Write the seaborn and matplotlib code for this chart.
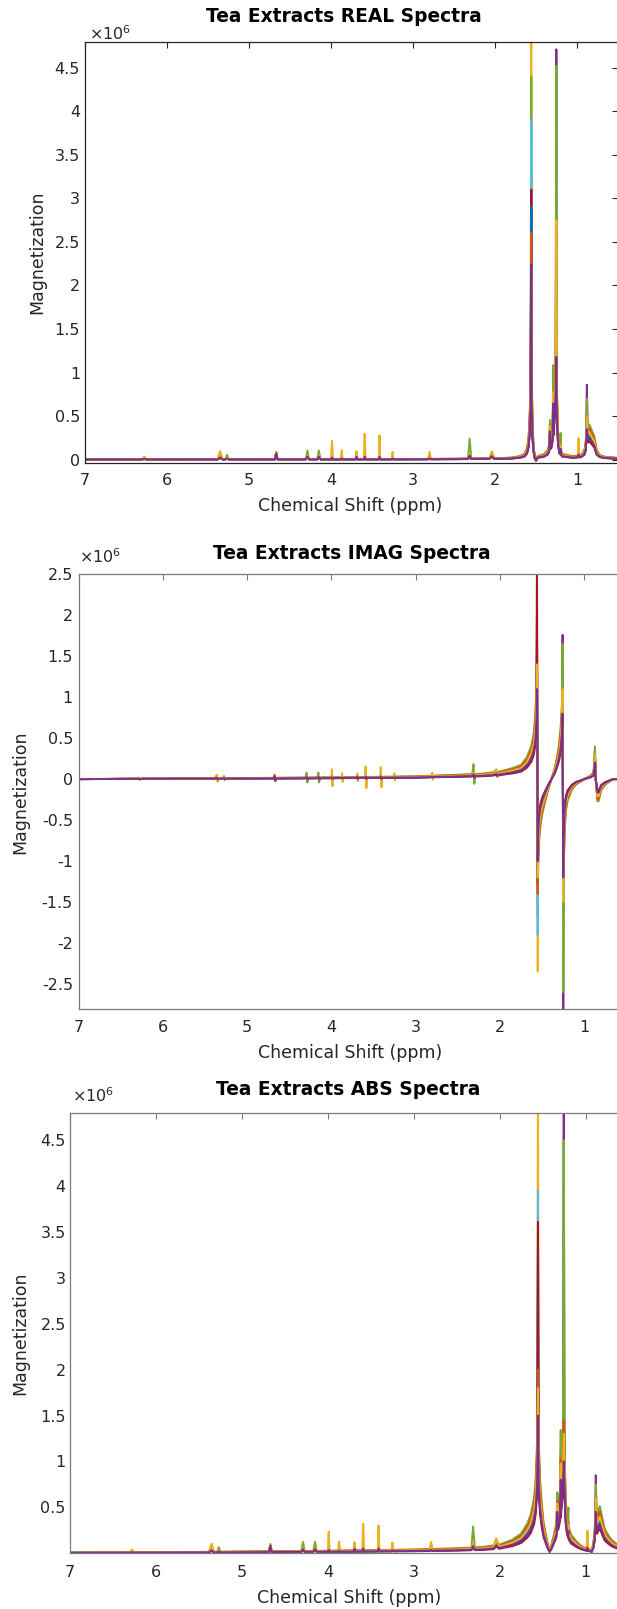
import numpy as np
import pandas as pd
import matplotlib
matplotlib.use("Agg")
import matplotlib.pyplot as plt
import seaborn as sns
from matplotlib.ticker import FuncFormatter

# ---------------------------------------------------------------- data
sample_names = [f"S{i + 1:02d}" for i in range(11)]
sample_colors = ["#0072BD", "#D95319", "#EDB120", "#7E2F8E", "#77AC30", "#4DBEEE",
                 "#A2142F", "#0072BD", "#D95319", "#EDB120", "#7E2F8E"]
sample_group = ["base", "base", "yellow", "base", "green", "base",
                "base", "base", "base", "yellow", "base"]
sample_gain = [0.8, 1.15, 1.25, 0.95, 1.35, 1.0, 0.7, 0.88, 1.2, 1.05, 0.82]

ppm_ticks = [7, 6, 5, 4, 3, 2, 1]
titles = ["Tea Extracts REAL Spectra", "Tea Extracts IMAG Spectra", "Tea Extracts ABS Spectra"]

# small (minor) resonances, heights in units of 1e6
minor_ppm = [6.28, 5.355, 5.27, 4.67, 4.29, 4.15, 3.99, 3.87, 3.69, 3.59, 3.41, 3.25,
             2.80, 2.31, 2.04, 1.33, 1.29, 1.20, 0.98]
minor_halfwidth = [0.03, 0.03, 0.02, 0.015, 0.02, 0.02, 0.008, 0.008, 0.01, 0.008, 0.008,
                   0.008, 0.015, 0.02, 0.03, 0.01, 0.008, 0.008, 0.008]
minor_base = [0.005, 0.02, 0.01, 0.07, 0.03, 0.03, 0.02, 0.01, 0.03, 0.03, 0.03, 0.01,
              0.01, 0.04, 0.03, 0.2, 0.35, 0.06, 0.03]
minor_yellow = [0.03, 0.09, 0.02, 0.08, 0.04, 0.04, 0.21, 0.1, 0.09, 0.29, 0.27, 0.08,
                0.08, 0.06, 0.08, 0.22, 0.4, 0.08, 0.2]
minor_green = [0.01, 0.03, 0.05, 0.08, 0.1, 0.1, 0.03, 0.03, 0.04, 0.05, 0.05, 0.02,
               0.02, 0.23, 0.05, 0.25, 0.6, 0.2, 0.05]

imag_minor_base = [0.003, 0.01, 0.005, 0.03, 0.015, 0.015, 0.01, 0.005, 0.015, 0.015,
                   0.015, 0.005, 0.005, 0.02, 0.015]
imag_minor_yellow = [0.015, 0.04, 0.01, 0.04, 0.02, 0.02, 0.1, 0.05, 0.045, 0.13, 0.12,
                     0.04, 0.04, 0.03, 0.04]
imag_minor_green = [0.005, 0.015, 0.025, 0.04, 0.06, 0.06, 0.015, 0.015, 0.02, 0.025,
                    0.025, 0.01, 0.01, 0.12, 0.025]

# REAL spectrum: background / skirts, then the big resonances per sample
real_bg_ppm = [7.0, 6.0, 5.0, 4.0, 3.0, 2.5, 2.0, 1.8, 1.7, 1.64, 1.61, 1.59, 1.575, 1.566,
               1.552, 1.542, 1.53, 1.515, 1.5, 1.48, 1.44, 1.4, 1.36, 1.31, 1.285, 1.262,
               1.245, 1.232, 1.215, 1.18, 1.12, 1.05, 0.95, 0.91, 0.893, 0.868, 0.85, 0.82,
               0.79, 0.76, 0.72, 0.66, 0.58, 0.5]
real_bg_val = [0.004, 0.004, 0.005, 0.005, 0.006, 0.008, 0.012, 0.018, 0.03, 0.05, 0.1, 0.2,
               0.45, 0.8, 0.7, 0.3, 0.12, 0.02, -0.01, 0.03, 0.04, 0.05, 0.08, 0.2, 0.4, 0.9,
               0.6, 0.25, 0.1, 0.05, 0.04, 0.03, 0.04, 0.08, 0.15, 0.28, 0.3, 0.25, 0.2, 0.08,
               0.04, 0.025, 0.02, 0.015]
real_big_ppm = [1.558, 1.252, 0.88]
real_peak_1p56 = [2.9, 3.3, 5.3, 3.0, 4.4, 3.9, 3.1, 2.9, 2.6, 2.2, 2.24]
real_peak_1p25 = [1.0, 1.2, 2.3, 4.71, 4.52, 1.3, 1.1, 1.3, 1.0, 2.75, 1.18]
real_peak_0p88 = [0.4, 0.45, 0.5, 0.86, 0.7, 0.4, 0.42, 0.45, 0.4, 0.5, 0.35]

# IMAG spectrum (dispersive)
imag_bg_ppm = [7.0, 6.0, 5.0, 4.0, 3.0, 2.5, 2.2, 2.0, 1.85, 1.75, 1.68, 1.63, 1.6, 1.58,
               1.567, 1.548, 1.535, 1.52, 1.5, 1.47, 1.43, 1.39, 1.35, 1.32, 1.3, 1.28,
               1.265, 1.245, 1.235, 1.22, 1.2, 1.15, 1.1, 1.0, 0.93, 0.89, 0.865, 0.845,
               0.83, 0.8, 0.75, 0.66, 0.5]
imag_bg_val = [0.0, 0.005, 0.01, 0.015, 0.025, 0.04, 0.05, 0.07, 0.1, 0.13, 0.2, 0.3, 0.42,
               0.6, 0.9, -0.8, -0.55, -0.42, -0.32, -0.22, -0.1, 0.0, 0.1, 0.22, 0.32, 0.48,
               0.7, -0.9, -0.5, -0.3, -0.2, -0.1, -0.05, 0.0, 0.03, 0.06, 0.0, -0.2, -0.2,
               -0.1, -0.05, 0.0, 0.0]
imag_big_ppm = [1.562, 1.553, 1.258, 1.25, 0.874]
imag_up_1p56 = [1.5, 2.0, 2.8, 1.97, 1.6, 1.54, 2.8, 1.3, 1.2, 1.4, 1.1]
imag_down_1p56 = [-1.2, -1.5, -2.35, -1.0, -1.68, -1.9, -1.3, -1.1, -1.4, -1.2, -1.0]
imag_up_1p25 = [0.7, 0.8, 1.0, 1.76, 1.65, 0.75, 0.7, 0.8, 0.7, 1.1, 0.8]
imag_down_1p25 = [-1.0, -1.2, -1.6, -3.0, -2.6, -1.1, -1.0, -1.2, -1.0, -1.5, -1.2]
imag_up_0p87 = [0.25, 0.28, 0.3, 0.38, 0.4, 0.22, 0.25, 0.28, 0.25, 0.3, 0.2]

# ABS spectrum
abs_bg_ppm = [7.0, 6.5, 6.0, 5.0, 4.0, 3.0, 2.5, 2.2, 2.0, 1.85, 1.75, 1.68, 1.64, 1.6, 1.58,
              1.566, 1.545, 1.53, 1.51, 1.49, 1.46, 1.44, 1.42, 1.4, 1.37, 1.34, 1.31, 1.29,
              1.265, 1.245, 1.235, 1.22, 1.2, 1.17, 1.1, 1.05, 1.0, 0.95, 0.93, 0.91, 0.893,
              0.87, 0.85, 0.835, 0.81, 0.78, 0.74, 0.7, 0.65, 0.5]
abs_bg_val = [0.004, 0.006, 0.008, 0.013, 0.02, 0.03, 0.04, 0.05, 0.07, 0.11, 0.16, 0.24,
              0.31, 0.45, 0.62, 0.9, 0.9, 0.6, 0.4, 0.25, 0.14, 0.07, 0.02, 0.06, 0.15, 0.25,
              0.42, 0.55, 0.9, 0.9, 0.5, 0.32, 0.22, 0.15, 0.09, 0.06, 0.04, 0.03, 0.02, 0.08,
              0.2, 0.3, 0.35, 0.38, 0.3, 0.2, 0.15, 0.11, 0.08, 0.05]
abs_big_ppm = [1.555, 1.255, 0.882]
abs_peak_1p56 = [2.2, 2.95, 5.3, 2.5, 3.3, 3.95, 3.61, 1.48, 2.0, 1.8, 1.5]
abs_peak_1p25 = [1.1, 1.2, 1.4, 5.3, 4.5, 1.2, 1.1, 1.3, 1.45, 1.3, 1.0]
abs_peak_0p88 = [0.5, 0.55, 0.6, 0.85, 0.75, 0.5, 0.5, 0.55, 0.5, 0.6, 0.45]


# ---------------------------------------------------------------- assembly
def build_curve(bg_ppm, bg_val, gain, big_ppm, big_h, mppm, mw, mh, dispersive=False):
    bp = np.asarray(bg_ppm, float)[::-1]
    bv = np.asarray(bg_val, float)[::-1] * gain
    xs, ys = list(bp), list(bv)
    xs += list(big_ppm)
    ys += list(big_h)
    for p, w, h in zip(mppm, mw, mh):
        b0 = float(np.interp(p, bp, bv))
        if dispersive:
            xs += [p - w, p - 0.004, p + 0.004, p + w]
            ys += [float(np.interp(p - w, bp, bv)), b0 - h, b0 + h,
                   float(np.interp(p + w, bp, bv))]
        else:
            xs += [p - w, p, p + w]
            ys += [float(np.interp(p - w, bp, bv)), b0 + h, float(np.interp(p + w, bp, bv))]
    order = np.argsort(xs, kind="stable")
    return np.asarray(xs)[order], np.asarray(ys)[order]


groups = {"base": minor_base, "yellow": minor_yellow, "green": minor_green}
igroups = {"base": imag_minor_base, "yellow": imag_minor_yellow, "green": imag_minor_green}


def frame(curves):
    parts = [pd.DataFrame({"ppm": x, "mag": y, "sample": n})
             for n, (x, y) in zip(sample_names, curves)]
    return pd.concat(parts, ignore_index=True)


real_curves, imag_curves, abs_curves = [], [], []
for i in range(len(sample_names)):
    g = sample_group[i]
    real_curves.append(build_curve(real_bg_ppm, real_bg_val, sample_gain[i], real_big_ppm,
                                   [real_peak_1p56[i], real_peak_1p25[i], real_peak_0p88[i]],
                                   minor_ppm, minor_halfwidth, groups[g]))
    imag_curves.append(build_curve(imag_bg_ppm, imag_bg_val, sample_gain[i], imag_big_ppm,
                                   [imag_up_1p56[i], imag_down_1p56[i], imag_up_1p25[i],
                                    imag_down_1p25[i], imag_up_0p87[i]],
                                   minor_ppm[:15], minor_halfwidth[:15], igroups[g],
                                   dispersive=True))
    abs_curves.append(build_curve(abs_bg_ppm, abs_bg_val, sample_gain[i], abs_big_ppm,
                                  [abs_peak_1p56[i], abs_peak_1p25[i], abs_peak_0p88[i]],
                                  minor_ppm, minor_halfwidth, groups[g]))

frames = [frame(real_curves), frame(imag_curves), frame(abs_curves)]

# ---------------------------------------------------------------- figure
sns.set_theme(style="white")
plt.rcParams["font.family"] = ["DejaVu Sans"]
plt.rcParams["mathtext.fontset"] = "dejavusans"
plt.rcParams["axes.unicode_minus"] = False

W, H = 617, 1609
fig = plt.figure(figsize=(W / 100, H / 100), dpi=100)
fig.patch.set_facecolor("white")

TXT = "#262626"
panels = [
    dict(L=85.3, R=618.0, T=42.3, B=462.9, ylim=(-0.037, 4.79),
         yticks=[0, 0.5, 1, 1.5, 2, 2.5, 3, 3.5, 4, 4.5], spine="#262626",
         title=(344, 25), x10=(89, 34), ylab=(37, 252.6), xlab=(350, 505.7),
         xpad=7.3, ypad=3.8),
    dict(L=78.5, R=626.5, T=574.3, B=1009.3, ylim=(-2.81, 2.5),
         yticks=[-2.5, -2, -1.5, -1, -0.5, 0, 0.5, 1, 1.5, 2, 2.5], spine="#7a7a7a",
         title=(352, 561.7), x10=(79, 557), ylab=(20.5, 792), xlab=(350, 1053),
         xpad=7.7, ypad=4.0),
    dict(L=70.2, R=628.6, T=1112.7, B=1553.0, ylim=(0.002, 4.80),
         yticks=[0.5, 1, 1.5, 2, 2.5, 3, 3.5, 4, 4.5], spine="#7a7a7a",
         title=(348, 1098), x10=(72, 1096), ylab=(20.5, 1333), xlab=(349, 1598),
         xpad=8.6, ypad=3.2),
]

palette = dict(zip(sample_names, sample_colors))
fmt = FuncFormatter(lambda v, p: f"{v:g}")

for k, (pp, df) in enumerate(zip(panels, frames)):
    L, R, T, B = pp["L"], pp["R"], pp["T"], pp["B"]
    ax = fig.add_axes([L / W, 1 - B / H, (R - L) / W, (B - T) / H])
    sns.lineplot(data=df, x="ppm", y="mag", hue="sample", hue_order=sample_names,
                 palette=palette, estimator=None, sort=False, legend=False,
                 linewidth=1.4, ax=ax)
    ax.set_xlim(7, 0.5)
    ax.set_ylim(*pp["ylim"])
    ax.set_xticks(ppm_ticks)
    ax.set_yticks(pp["yticks"])
    ax.xaxis.set_major_formatter(fmt)
    ax.yaxis.set_major_formatter(fmt)
    ax.set_facecolor("white")
    for s in ax.spines.values():
        s.set_visible(True)
        s.set_color(pp["spine"])
        s.set_linewidth(0.9)
    ax.tick_params(axis="both", which="major", direction="in", length=4, width=0.8,
                   color=pp["spine"], labelcolor=TXT, top=True, right=True,
                   labelsize=11.5)
    ax.tick_params(axis="x", pad=pp["xpad"])
    ax.tick_params(axis="y", pad=pp["ypad"])

    def ax_coords(px, py):
        return (px - L) / (R - L), (B - py) / (B - T)

    tx, ty = ax_coords(*pp["title"])
    ax.set_title(titles[k], fontsize=13.4, fontweight="bold", color="black",
                 x=tx, y=ty, va="center", ha="center")
    ox, oy = ax_coords(*pp["x10"])
    ax.text(ox, oy, r"$\times10^{6}$", transform=ax.transAxes, ha="left", va="center",
            fontsize=11.5, color=TXT, clip_on=False)
    ax.set_xlabel("Chemical Shift (ppm)", fontsize=12.5, color=TXT, va="center")
    lx, ly = ax_coords(*pp["xlab"])
    ax.xaxis.set_label_coords(lx, ly)
    ax.set_ylabel("Magnetization", fontsize=12.5, color=TXT, va="center")
    yx, yy = ax_coords(*pp["ylab"])
    ax.yaxis.set_label_coords(yx, yy)

fig.savefig("out.png", dpi=100, facecolor="white")
